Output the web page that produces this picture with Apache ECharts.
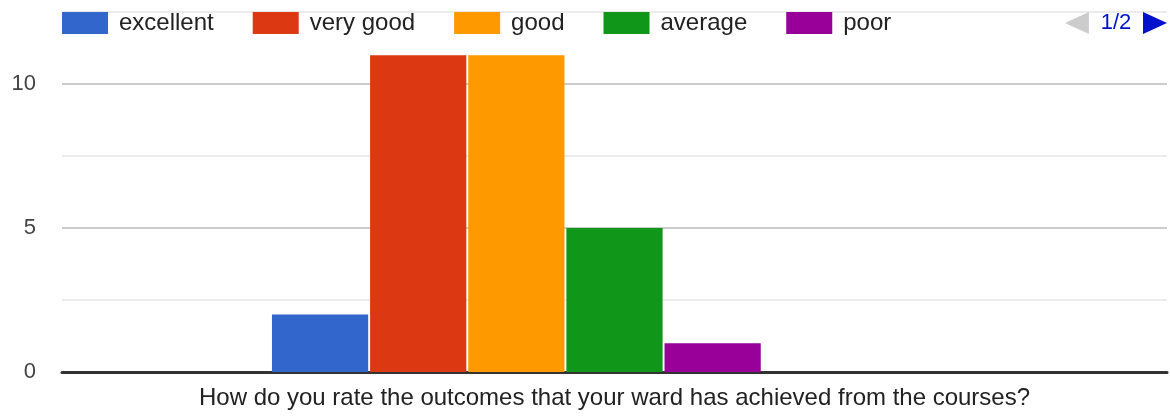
<!DOCTYPE html>
<html>
<head>
<meta charset="utf-8">
<script src="https://cdn.jsdelivr.net/npm/echarts@6/dist/echarts.min.js"></script>
<style>
  html, body { margin: 0; padding: 0; background: #fff; }
  #chart { width: 1170px; height: 416px; }
</style>
</head>
<body>
<div id="chart"></div>
<script>
const categories = ['How do you rate the outcomes that your ward has achieved from the courses?'];
const seriesNames = ['excellent', 'very good', 'good', 'average', 'poor', 'very poor', 'no opinion'];
const seriesValues = [[2], [11], [11], [5], [1], [0], [0]];
const colors = ['#3366cc', '#dc3912', '#ff9900', '#109618', '#990099', '#0099c6', '#dd4477'];
const yTicks = [0, 5, 10];

const chart = echarts.init(document.getElementById('chart'));

const series = seriesNames.map((name, i) => ({
    name: name,
    type: 'bar',
    data: seriesValues[i],
    barGap: '2%',
    barCategoryGap: '38%',
    itemStyle: { color: colors[i] }
}));

// last item of page one gets trailing spaces so page two begins after it
const pad = ' '.repeat(50);

chart.setOption({
    animation: false,
    textStyle: { fontFamily: 'Arial, "Liberation Sans", sans-serif' },
    legend: {
        type: 'scroll',
        left: 62,
        width: 1105,
        top: 11,
        padding: 0,
        itemWidth: 46,
        itemHeight: 22,
        itemGap: 39,
        icon: 'rect',
        formatter: name => name === seriesNames[4] ? name + pad : name,
        textStyle: { fontSize: 24, color: '#222', padding: [0, 0, 0, 6] },
        pageButtonPosition: 'end',
        pageIcons: {
            horizontal: ['path://M0,11L24,0L24,22z', 'path://M0,0L24,11L0,22z']
        },
        pageIconSize: [24, 22],
        pageIconColor: '#0011cc',
        pageIconInactiveColor: '#cccccc',
        pageTextStyle: { color: '#0011cc', fontSize: 22 },
        pageButtonItemGap: 2,
        pageButtonGap: 20
    },
    grid: { left: 62, right: 3, top: 12, bottom: 44 },
    xAxis: {
        type: 'category',
        data: categories,
        axisTick: { show: false },
        axisLine: { lineStyle: { color: '#333', width: 3 } },
        axisLabel: { fontSize: 24, color: '#222', margin: 14 }
    },
    yAxis: {
        type: 'value',
        min: 0,
        max: 12.5,
        interval: 2.5,
        axisLine: { show: false },
        axisTick: { show: false },
        axisLabel: {
            fontSize: 22,
            color: '#444',
            margin: 26,
            formatter: v => yTicks.includes(v) ? String(v) : ''
        },
        splitLine: { lineStyle: { color: ['#cccccc', '#ebebeb'], width: 2 } }
    },
    series: series
});
</script>
</body>
</html>
